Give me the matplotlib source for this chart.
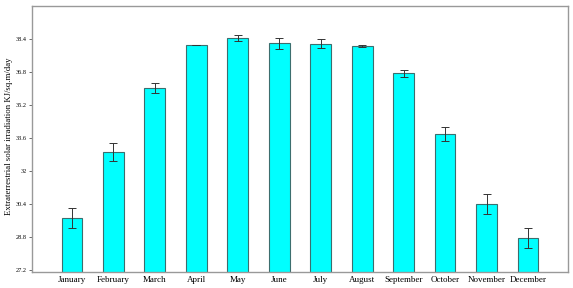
import matplotlib.pyplot as plt
import numpy as np

months = ['January', 'February', 'March', 'April', 'May', 'June',
          'July', 'August', 'September', 'October', 'November', 'December']
# mean extraterrestrial solar irradiation and its error
irradiation = [29.72, 32.92, 36.02, 38.11, 38.45, 38.2,
               38.18, 38.06, 36.75, 33.79, 30.4, 28.75]
error = [0.5, 0.45, 0.25, 0.0, 0.15, 0.27,
         0.2, 0.03, 0.17, 0.34, 0.48, 0.48]
yticks = [27.2, 28.8, 30.4, 32, 33.6, 35.2, 36.8, 38.4]

plt.rcParams['font.family'] = ['Liberation Serif', 'DejaVu Serif']

fig = plt.figure(figsize=(5.73, 2.88), dpi=100)
ax = fig.add_axes([0.056, 0.056, 0.935, 0.923])

x = np.arange(len(months))
ax.bar(x, irradiation, width=0.5, color='#00ffff', edgecolor='#3c6e6e',
       linewidth=0.8, yerr=error, capsize=3,
       error_kw=dict(ecolor='#333333', elinewidth=0.7, capthick=0.7))

ax.set_xlim(-0.96, 11.96)
ax.set_ylim(27.1, 40.0)
ax.set_xticks(x)
ax.set_xticklabels(months, fontsize=6.5)
ax.set_yticks(yticks)
ax.set_yticklabels([str(v) for v in yticks], fontsize=4.5)
ax.tick_params(axis='x', length=0, pad=3)
ax.tick_params(axis='y', length=2, width=0.6, color='#555555', pad=2)
ax.set_ylabel('Extraterrestrial solar irradiation KJ/sq.m/day', fontsize=6.3)
ax.yaxis.set_label_coords(-0.036, 0.51)

for s in ax.spines.values():
    s.set_color('#999999')
    s.set_linewidth(1.0)

fig.savefig('out.png', dpi=100)
